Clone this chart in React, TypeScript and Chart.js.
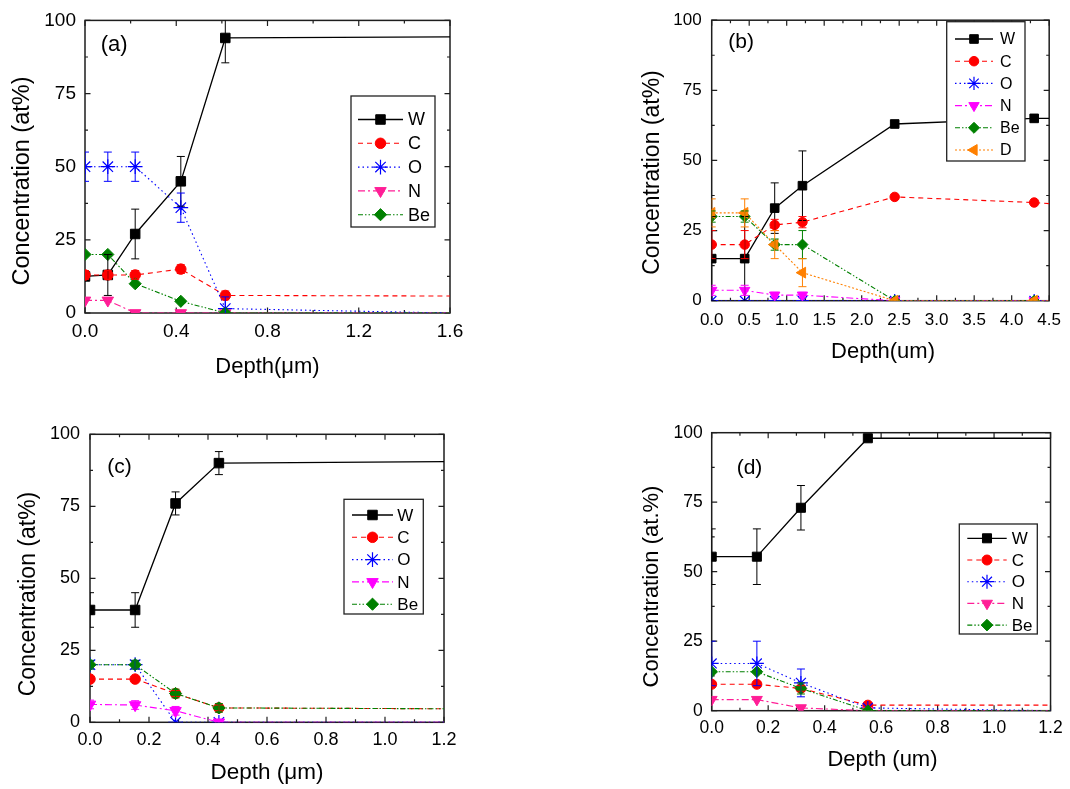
import React, { useEffect, useRef } from "react";
import { Chart, registerables } from "chart.js";
import { drawPoint } from "chart.js/helpers";

Chart.register(...registerables);

const FONT = "'Liberation Sans', Arial, Helvetica, sans-serif";

const yTicks = [0, 25, 50, 75, 100];
const elements = ["W", "C", "O", "N", "Be", "D"];

// ---------- panel (a) ----------
const depthA = [0, 0.1, 0.22, 0.42, 0.615, 1.6];
const xTicksA = [0, 0.4, 0.8, 1.2, 1.6];
const wA = [12.5, 13, 27, 45, 94, 94.4];
const wErrA = [0, 7, 8.5, 8.5, 8.5, 0];
const cA = [13, 13, 13, 15, 6, 5.8];
const cErrA = [1.5, 1.5, 1.5, 1.5, 1.5, 0];
const oA = [50, 50, 50, 36, 1.5, 0];
const oErrA = [5, 5, 5, 5, 4, 0];
const nA = [4.3, 4.3, 0, 0, 0, 0];
const nErrA = [0, 0, 0, 0, 0, 0];
const beA = [20, 20, 10, 4, 0, 0];
const beErrA = [0, 0, 0, 0, 0, 0];

// ---------- panel (b) ----------
const depthB = [0, 0.44, 0.84, 1.21, 2.44, 4.3, 4.5];
const xTicksB = [0, 0.5, 1, 1.5, 2, 2.5, 3, 3.5, 4, 4.5];
const wB = [15, 15, 33, 41, 63, 65, 65];
const wErrB = [15, 15, 9, 12.4, 0, 0, 0];
const cB = [20, 20, 27, 28, 37, 35, 34.6];
const cErrB = [5, 5, 2, 2, 0, 0, 0];
const oB = [0, 0, 0, 0, 0, 0, 0];
const oErrB = [0, 0, 0, 0, 0, 0, 0];
const nB = [3.7, 3.7, 2, 2, 0, 0, 0];
const nErrB = [1.8, 1.8, 1, 1, 0, 0, 0];
const beB = [30, 30, 20, 20, 0, 0, 0];
const beErrB = [2, 2, 2, 5, 0, 0, 0];
const dB = [31.3, 31.3, 20, 10, 0, 0, 0];
const dErrB = [5, 5, 5, 5, 0, 0, 0];

// ---------- panel (c) ----------
const depthC = [0, 0.153, 0.29, 0.437, 1.2];
const xTicksC = [0, 0.2, 0.4, 0.6, 0.8, 1, 1.2];
const wC = [39, 39, 76, 90, 90.5];
const wErrC = [6, 6, 4, 4, 0];
const cC = [15, 15, 10, 5, 4.7];
const cErrC = [0, 0, 1, 1, 0];
const oC = [20, 20, 0, 0, 0];
const oErrC = [1.5, 1.5, 0, 0, 0];
const nC = [6.2, 6, 4, 0, 0];
const nErrC = [1.5, 1.5, 1.5, 0, 0];
const beC = [20, 20, 10, 5, 4.7];
const beErrC = [1.5, 1.5, 1.5, 1.5, 0];

// ---------- panel (d) ----------
const depthD = [0, 0.16, 0.316, 0.553, 1.2];
const xTicksD = [0, 0.2, 0.4, 0.6, 0.8, 1, 1.2];
const wD = [55.4, 55.4, 73, 98, 98];
const wErrD = [10, 10, 8, 0, 0];
const cD = [9.5, 9.5, 8, 2, 2];
const cErrD = [1, 1, 1, 0, 0];
const oD = [17, 17, 10, 1, 0];
const oErrD = [8, 8, 5, 0, 0];
const nD = [4, 4, 1, 0, 0];
const nErrD = [0, 0, 0, 0, 0];
const beD = [14, 14, 8, 0, 0];
const beErrD = [0, 0, 2, 0, 0];

const STYLE: any = {
  W: { color: "#000000", dash: [], point: "rect", r: 6.4, rot: 0 },
  C: { color: "#ff0000", dash: [5, 4], point: "circle", r: 5, rot: 0 },
  O: { color: "#0000ff", dash: [1.5, 3], point: "star", r: 7, rot: 0 },
  N: { color: "#ff00ff", dash: [7, 3, 2, 3], point: "triangle", r: 6.3, rot: 180 },
  Npink: { color: "#ff1e96", dash: [7, 3, 2, 3], point: "triangle", r: 6.3, rot: 180 },
  Be: { color: "#008000", dash: [5, 2, 1.5, 2, 1.5, 2], point: "rectRot", r: 5.8, rot: 0 },
  D: { color: "#ff8000", dash: [2, 2], point: "triangle", r: 6.6, rot: 270 },
};

function ser(label: string, ys: number[], errs: number[], styleKey?: string) {
  return { label, ys, errs, ...STYLE[styleKey || label] };
}

const PANELS: any[] = [
  {
    canvas: [0, 0, 535, 394],
    plot: [85, 14, 450, 313],
    xs: depthA,
    xTicks: xTicksA,
    tickSize: 19,
    xPad: 7,
    yPad: 9,
    mScale: 1.05,
    xTitle: { text: "Depth(\u03bcm)", x: 267.5, y: 372.7, size: 22 },
    yTitle: { text: "Concentration (at%)", x: 28.5, y: 181, size: 23.5 },
    tag: { text: "(a)", x: 100.7, y: 51, size: 22 },
    legend: { box: [351, 96, 435, 227], y0: 119.5, dy: 23.8, x1: 358, x2: 403, tx: 408, size: 18 },
    series: [
      ser(elements[0], wA, wErrA),
      ser(elements[1], cA, cErrA),
      ser(elements[2], oA, oErrA),
      ser(elements[3], nA, nErrA, "Npink"),
      ser(elements[4], beA, beErrA),
    ],
  },
  {
    canvas: [535, 0, 535, 394],
    plot: [711.7, 13.3, 1055, 300.7],
    xs: depthB,
    xTicks: xTicksB,
    tickSize: 17,
    xPad: 9,
    yPad: 10,
    mScale: 0.95,
    xTitle: { text: "Depth(um)", x: 883, y: 357.5, size: 22 },
    yTitle: { text: "Concentration (at%)", x: 658.5, y: 172.5, size: 23 },
    tag: { text: "(b)", x: 728.3, y: 47.8, size: 21 },
    legend: { box: [946.7, 21.7, 1025, 161], y0: 39, dy: 22.2, x1: 955, x2: 993, tx: 1000, size: 16 },
    series: [
      ser(elements[0], wB, wErrB),
      ser(elements[1], cB, cErrB),
      ser(elements[2], oB, oErrB),
      ser(elements[3], nB, nErrB),
      ser(elements[4], beB, beErrB),
      ser(elements[5], dB, dErrB),
    ],
  },
  {
    canvas: [0, 394, 535, 395],
    plot: [90, 434.3, 444, 722.3],
    xs: depthC,
    xTicks: xTicksC,
    tickSize: 18,
    xPad: 7,
    yPad: 10,
    mScale: 1.05,
    xTitle: { text: "Depth (\u03bcm)", x: 267, y: 779, size: 22.5 },
    yTitle: { text: "Concentration (at%)", x: 35, y: 594, size: 23 },
    tag: { text: "(c)", x: 107.3, y: 472.8, size: 21 },
    legend: { box: [344, 499.3, 423.3, 614], y0: 515, dy: 22.3, x1: 352, x2: 393, tx: 397.3, size: 17 },
    series: [
      ser(elements[0], wC, wErrC),
      ser(elements[1], cC, cErrC),
      ser(elements[2], oC, oErrC),
      ser(elements[3], nC, nErrC),
      ser(elements[4], beC, beErrC),
    ],
  },
  {
    canvas: [535, 394, 535, 395],
    plot: [711.7, 432.7, 1055, 710.7],
    xs: depthD,
    xTicks: xTicksD,
    tickSize: 17.5,
    xPad: 7.3,
    yPad: 9,
    mScale: 1,
    xTitle: { text: "Depth (um)", x: 882.5, y: 765.8, size: 22 },
    yTitle: { text: "Concentration (at.%)", x: 658, y: 586.5, size: 22 },
    tag: { text: "(d)", x: 736.7, y: 474.4, size: 21 },
    legend: { box: [959.3, 524, 1037.3, 634], y0: 538.3, dy: 21.7, x1: 967.3, x2: 1006.7, tx: 1011.7, size: 17 },
    series: [
      ser(elements[0], wD, wErrD),
      ser(elements[1], cD, cErrD),
      ser(elements[2], oD, oErrD),
      ser(elements[3], nD, nErrD, "Npink"),
      ser(elements[4], beD, beErrD),
    ],
  },
];

function mids(arr: number[]) {
  const out: number[] = [];
  for (let i = 0; i < arr.length - 1; i++) out.push((arr[i] + arr[i + 1]) / 2);
  return out;
}

function makeDecor(p: any) {
  const [cx, cy] = p.canvas;
  return {
    id: "decor",
    beforeDatasetsDraw(chart: any) {
      const { ctx, chartArea: a, scales } = chart;
      const xs = scales.x;
      const ys = scales.y;
      ctx.save();
      ctx.setLineDash([]);
      ctx.strokeStyle = "#1e1e1e";
      ctx.lineWidth = 1.2;
      const majL = 5.5;
      const minL = 3;
      const tickX = (vals: number[], len: number) => {
        vals.forEach((v) => {
          const px = xs.getPixelForValue(v);
          ctx.beginPath();
          ctx.moveTo(px, a.bottom);
          ctx.lineTo(px, a.bottom - len);
          ctx.moveTo(px, a.top);
          ctx.lineTo(px, a.top + len);
          ctx.stroke();
        });
      };
      const tickY = (vals: number[], len: number) => {
        vals.forEach((v) => {
          const py = ys.getPixelForValue(v);
          ctx.beginPath();
          ctx.moveTo(a.left, py);
          ctx.lineTo(a.left + len, py);
          ctx.moveTo(a.right, py);
          ctx.lineTo(a.right - len, py);
          ctx.stroke();
        });
      };
      tickX(p.xTicks, majL);
      tickX(mids(p.xTicks), minL);
      tickY(yTicks, majL);
      tickY(mids(yTicks), minL);
      ctx.lineWidth = 1.5;
      ctx.strokeRect(a.left, a.top, a.right - a.left, a.bottom - a.top);
      ctx.restore();
    },
    afterDatasetsDraw(chart: any) {
      const { ctx, chartArea: a, scales } = chart;
      const ys = scales.y;
      const n = p.xs.length;
      // error bars
      ctx.save();
      ctx.beginPath();
      ctx.rect(a.left, a.top, a.right - a.left, a.bottom - a.top);
      ctx.clip();
      ctx.setLineDash([]);
      p.series.forEach((s: any, i: number) => {
        const meta = chart.getDatasetMeta(i);
        ctx.strokeStyle = s.color;
        ctx.lineWidth = 1;
        for (let j = 0; j < n - 1; j++) {
          const e = s.errs[j];
          if (!e) continue;
          const pt = meta.data[j];
          const x = pt.x;
          const y1 = ys.getPixelForValue(s.ys[j] + e);
          const y2 = ys.getPixelForValue(s.ys[j] - e);
          const cap = 4;
          ctx.beginPath();
          ctx.moveTo(x, y1);
          ctx.lineTo(x, y2);
          ctx.moveTo(x - cap, y1);
          ctx.lineTo(x + cap, y1);
          ctx.moveTo(x - cap, y2);
          ctx.lineTo(x + cap, y2);
          ctx.stroke();
        }
      });
      ctx.restore();

      // legend
      const L = p.legend;
      ctx.save();
      const bx = L.box[0] - cx;
      const by = L.box[1] - cy;
      const bw = L.box[2] - L.box[0];
      const bh = L.box[3] - L.box[1];
      ctx.fillStyle = "#ffffff";
      ctx.fillRect(bx, by, bw, bh);
      ctx.strokeStyle = "#222222";
      ctx.lineWidth = 1.3;
      ctx.setLineDash([]);
      ctx.strokeRect(bx, by, bw, bh);
      p.series.forEach((s: any, k: number) => {
        const y = L.y0 + k * L.dy - cy;
        const x1 = L.x1 - cx;
        const x2 = L.x2 - cx;
        ctx.strokeStyle = s.color;
        ctx.lineWidth = s.label === "W" ? 1.3 : 1.1;
        ctx.setLineDash(s.dash);
        ctx.beginPath();
        ctx.moveTo(x1, y);
        ctx.lineTo(x2, y);
        ctx.stroke();
        ctx.setLineDash([]);
        ctx.fillStyle = s.color;
        ctx.strokeStyle = s.color;
        ctx.lineWidth = s.point === "star" ? 1.2 : 1;
        drawPoint(ctx, { pointStyle: s.point, rotation: s.rot, radius: s.r * p.mScale, borderWidth: ctx.lineWidth } as any, (x1 + x2) / 2, y);
        ctx.fillStyle = "#000000";
        ctx.font = `${L.size}px ${FONT}`;
        ctx.textAlign = "left";
        ctx.textBaseline = "middle";
        ctx.fillText(s.label, L.tx - cx, y + 1);
      });
      ctx.restore();

      // texts
      ctx.save();
      ctx.fillStyle = "#000000";
      ctx.textBaseline = "alphabetic";
      ctx.font = `${p.tag.size}px ${FONT}`;
      ctx.textAlign = "left";
      ctx.fillText(p.tag.text, p.tag.x - cx, p.tag.y - cy);
      ctx.font = `${p.xTitle.size}px ${FONT}`;
      ctx.textAlign = "center";
      ctx.fillText(p.xTitle.text, p.xTitle.x - cx, p.xTitle.y - cy);
      ctx.translate(p.yTitle.x - cx, p.yTitle.y - cy);
      ctx.rotate(-Math.PI / 2);
      ctx.font = `${p.yTitle.size}px ${FONT}`;
      ctx.textAlign = "center";
      ctx.fillText(p.yTitle.text, 0, 0);
      ctx.restore();
    },
  };
}

function PanelChart({ p }: { p: any }) {
  const ref = useRef<HTMLCanvasElement>(null);
  const [cx, cy, cw, ch] = p.canvas;
  useEffect(() => {
    const [pl, pt, pr, pb] = p.plot;
    const n = p.xs.length;
    const datasets = p.series.map((s: any, i: number) => ({
      label: s.label,
      data: p.xs.map((x: number, j: number) => ({ x, y: s.ys[j] })),
      borderColor: s.color,
      backgroundColor: s.color,
      borderWidth: s.label === "W" ? 1.3 : 1.1,
      borderDash: s.dash,
      pointStyle: s.point,
      pointRadius: p.xs.map((_: number, j: number) => (j === n - 1 ? 0 : s.r * p.mScale)),
      pointHoverRadius: 0,
      pointRotation: s.rot,
      pointBackgroundColor: s.color,
      pointBorderColor: s.color,
      pointBorderWidth: s.point === "star" ? 1.2 : 1,
      tension: 0,
      fill: false,
      order: -i,
    }));
    const chart = new Chart(ref.current as HTMLCanvasElement, {
      type: "line",
      data: { datasets },
      options: {
        animation: false,
        responsive: false,
        events: [],
        layout: { padding: { left: 0, top: pt - cy, right: cx + cw - pr, bottom: 0 } },
        plugins: { legend: { display: false }, tooltip: { enabled: false } },
        scales: {
          x: {
            type: "linear",
            min: p.xTicks[0],
            max: p.xTicks[p.xTicks.length - 1],
            grid: { display: false, drawTicks: false },
            border: { display: false },
            afterBuildTicks: (s: any) => {
              s.ticks = p.xTicks.map((v: number) => ({ value: v }));
            },
            afterFit: (s: any) => {
              s.height = cy + ch - pb;
            },
            ticks: {
              autoSkip: false,
              maxRotation: 0,
              minRotation: 0,
              padding: p.xPad,
              color: "#000000",
              font: { family: FONT, size: p.tickSize },
              callback: (v: any) => Number(v).toFixed(1),
            },
          },
          y: {
            type: "linear",
            min: 0,
            max: 100,
            grid: { display: false, drawTicks: false },
            border: { display: false },
            afterBuildTicks: (s: any) => {
              s.ticks = yTicks.map((v) => ({ value: v }));
            },
            afterFit: (s: any) => {
              s.width = pl - cx;
            },
            ticks: {
              autoSkip: false,
              padding: p.yPad,
              color: "#000000",
              font: { family: FONT, size: p.tickSize },
              callback: (v: any) => String(v),
            },
          },
        },
      } as any,
      plugins: [makeDecor(p)],
    });
    return () => chart.destroy();
  }, [p]);
  return (
    <canvas
      ref={ref}
      width={cw}
      height={ch}
      style={{ position: "absolute", left: cx, top: cy, width: cw, height: ch, display: "block" }}
    />
  );
}

export default function App() {
  return (
    <div style={{ position: "absolute", left: 0, top: 0, width: 1070, height: 789, background: "#ffffff", overflow: "hidden" }}>
      {PANELS.map((p, i) => (
        <PanelChart key={i} p={p} />
      ))}
    </div>
  );
}
